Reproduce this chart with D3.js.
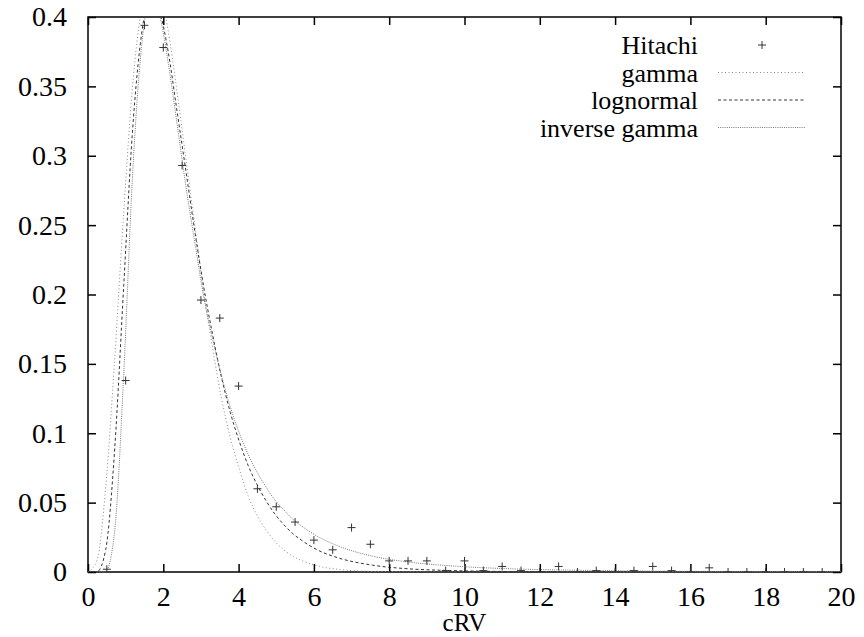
<!DOCTYPE html>
<html>
<head>
<meta charset="utf-8">
<script src="https://cdn.jsdelivr.net/npm/d3@7"></script>
<style>
  body { margin: 0; background: #fff; }
  text { font-family: "Liberation Serif", "Times New Roman", Times, "DejaVu Serif", serif; fill: #000; }
</style>
</head>
<body>
<script>
const width = 864,
	height = 637

// Hitachi measurements (cRV, density)
const hitachiX = [0.5, 1, 1.5, 2, 2.5, 3, 3.5, 4, 4.5, 5, 5.5, 6, 6.5, 7, 7.5, 8, 8.5, 9, 9.5, 10,
	10.5, 11, 11.5, 12, 12.5, 13, 13.5, 14, 14.5, 15, 15.5, 16, 16.5, 17, 17.5, 18, 18.5, 19, 19.5]
const hitachiY = [0.002, 0.138, 0.394, 0.378, 0.293, 0.196, 0.183, 0.134, 0.06, 0.047, 0.036, 0.023, 0.016, 0.032, 0.02, 0.008, 0.008, 0.008, 0.001, 0.008,
	0.001, 0.004, 0.001, 0, 0.004, 0, 0.001, 0, 0.001, 0.004, 0.001, 0, 0.003, 0, 0, 0, 0, 0, 0]

// fitted curves
const curveX = [0, 0.24, 0.47, 0.71, 0.95, 1.18, 1.42, 1.65, 1.89, 2.13, 2.36, 2.6, 2.84, 3.07, 3.31, 3.54, 3.78, 4.02, 4.25, 4.49,
	4.73, 4.96, 5.2, 5.43, 5.67, 6.14, 6.62, 7.56, 8.51, 9.45, 10.4, 11.34, 13.23, 15.12, 17.01, 18.9, 20]
const gammaY = [0, 0.0085, 0.061, 0.154, 0.26, 0.349, 0.406, 0.428, 0.42, 0.39, 0.347, 0.298, 0.249, 0.202, 0.161, 0.126, 0.097, 0.074, 0.055, 0.041,
	0.0303, 0.0221, 0.016, 0.0115, 0.0083, 0.0041, 0.002, 0.0004, 0.0001, 0, 0, 0, 0, 0, 0, 0, 0]
const lognormalY = [0, 0.0002, 0.016, 0.089, 0.207, 0.317, 0.387, 0.414, 0.405, 0.375, 0.333, 0.289, 0.245, 0.206, 0.171, 0.141, 0.115, 0.094, 0.077, 0.063,
	0.0513, 0.0419, 0.0342, 0.0279, 0.0229, 0.0153, 0.0104, 0.0049, 0.0023, 0.0012, 0.0006, 0.0003, 0.0001, 0, 0, 0, 0]
const invGammaY = [0, 0, 0.0005, 0.03, 0.143, 0.284, 0.378, 0.412, 0.402, 0.367, 0.324, 0.278, 0.237, 0.199, 0.168, 0.142, 0.119, 0.1, 0.085, 0.072,
	0.0612, 0.052, 0.0448, 0.0383, 0.0332, 0.025, 0.019, 0.0114, 0.0072, 0.0048, 0.0032, 0.0022, 0.0012, 0.0006, 0.00037, 0.00023, 0.0002]

const xTicks = [0, 2, 4, 6, 8, 10, 12, 14, 16, 18, 20]
const yTicks = [0, 0.05, 0.1, 0.15, 0.2, 0.25, 0.3, 0.35, 0.4]

const series = [
	{ name: "gamma", values: gammaY, stroke: "#8a8a8a", dash: "1,2.5" },
	{ name: "lognormal", values: lognormalY, stroke: "#333", dash: "3,2.5" },
	{ name: "inverse gamma", values: invGammaY, stroke: "#777", dash: "1,1.2" }
]

const plotLeft = 88, plotRight = 841, plotTop = 17, plotBottom = 572
const fontFamily = '"Liberation Serif", "Times New Roman", Times, "DejaVu Serif", serif'
const tickFont = 28

const x = d3.scaleLinear().domain([0, 20]).range([plotLeft, plotRight])
const y = d3.scaleLinear().domain([0, 0.4]).range([plotBottom, plotTop])

const svg = d3.select("body").append("svg")
	.attr("width", width)
	.attr("height", height)

svg.append("defs").append("clipPath").attr("id", "plotClip")
	.append("rect")
	.attr("x", plotLeft).attr("y", plotTop)
	.attr("width", plotRight - plotLeft).attr("height", plotBottom - plotTop)

// axes, ticks drawn inward and mirrored
svg.append("g")
	.attr("transform", `translate(0,${plotBottom})`)
	.call(d3.axisBottom(x).tickValues(xTicks).tickSizeInner(-8).tickSizeOuter(0).tickPadding(14).tickFormat(d3.format("d")))
svg.append("g")
	.attr("transform", `translate(0,${plotTop})`)
	.call(d3.axisTop(x).tickValues(xTicks).tickSizeInner(-8).tickSizeOuter(0).tickFormat(""))
svg.append("g")
	.attr("transform", `translate(${plotLeft},0)`)
	.call(d3.axisLeft(y).tickValues(yTicks).tickSizeInner(-8).tickSizeOuter(0).tickPadding(21).tickFormat(d => String(+d.toFixed(2))))
svg.append("g")
	.attr("transform", `translate(${plotRight},0)`)
	.call(d3.axisRight(y).tickValues(yTicks).tickSizeInner(-8).tickSizeOuter(0).tickFormat(""))

svg.selectAll("g").attr("font-family", null)
svg.selectAll(".domain").remove()
svg.selectAll(".tick line").attr("stroke", "#000").attr("stroke-width", 1.5)
svg.selectAll(".tick text")
	.style("font-family", fontFamily)
	.style("font-size", tickFont + "px")
	.attr("fill", "#000")

svg.append("rect")
	.attr("x", plotLeft).attr("y", plotTop)
	.attr("width", plotRight - plotLeft).attr("height", plotBottom - plotTop)
	.attr("fill", "none")
	.attr("stroke", "#000")
	.attr("stroke-width", 1.5)

// x axis title
svg.append("text")
	.attr("x", (plotLeft + plotRight) / 2)
	.attr("y", 631)
	.attr("text-anchor", "middle")
	.style("font-family", fontFamily)
	.style("font-size", "25px")
	.text("cRV")

// fitted curves
const line = d3.line()
	.x((d, i) => x(curveX[i]))
	.y(d => y(d))
	.curve(d3.curveMonotoneX)

const plot = svg.append("g").attr("clip-path", "url(#plotClip)")

plot.selectAll("path.fit")
	.data(series)
	.join("path")
	.attr("class", "fit")
	.attr("d", d => line(d.values))
	.attr("fill", "none")
	.attr("stroke", d => d.stroke)
	.attr("stroke-width", 1)
	.attr("stroke-dasharray", d => d.dash)

// Hitachi points as "+" marks
const plus = (cx, cy, r) => `M${cx - r},${cy}H${cx + r}M${cx},${cy - r}V${cy + r}`

plot.selectAll("path.pt")
	.data(hitachiX)
	.join("path")
	.attr("class", "pt")
	.attr("d", (d, i) => plus(x(d), y(hitachiY[i]), 4))
	.attr("stroke", "#333")
	.attr("stroke-width", 1)

// legend
const legendRows = [{ name: "Hitachi" }].concat(series)
const legend = svg.append("g")
legendRows.forEach((d, i) => {
	const cy = 45 + i * 27.5
	legend.append("text")
		.attr("x", 698)
		.attr("y", cy)
		.attr("dy", "0.35em")
		.attr("text-anchor", "end")
		.style("font-family", fontFamily)
		.style("font-size", "26px")
		.text(d.name)
	if (i === 0) {
		legend.append("path")
			.attr("d", plus(762, cy, 4))
			.attr("stroke", "#333")
			.attr("stroke-width", 1)
	} else {
		legend.append("line")
			.attr("x1", 718).attr("x2", 805)
			.attr("y1", cy).attr("y2", cy)
			.attr("stroke", d.stroke)
			.attr("stroke-width", 1)
			.attr("stroke-dasharray", d.dash)
	}
})
</script>
</body>
</html>
